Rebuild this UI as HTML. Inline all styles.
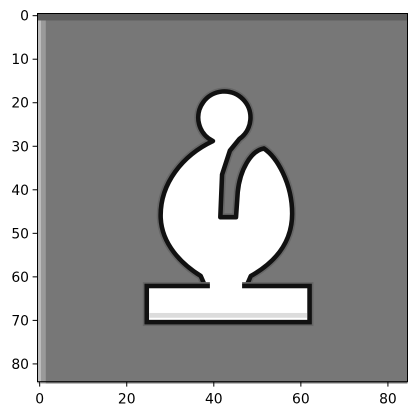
<!DOCTYPE html>
<html><head><meta charset="utf-8"><style>
html,body{margin:0;padding:0;background:#fff;}
svg{display:block;font-family:"DejaVu Sans","Liberation Sans",sans-serif;}
</style></head><body>
<svg id="chart" width="416" height="416" viewBox="0 0 416 416">
  <g id="img" transform="translate(37.5,13.5) scale(4.353)">
    <rect x="0" y="0" width="85" height="85" fill="#777777"/>
    <rect x="0" y="0" width="85" height="1.6" fill="#5e5e5e"/>
    <rect x="0" y="1.6" width="0.8" height="83.4" fill="#bdbdbd"/>
    <rect x="0.8" y="1.6" width="1.1" height="83.4" fill="#9a9a9a"/>
    <g>
      <path d="M40.3 29.3 C33.5 32.5,28 39,28.3 47 C28.6 53,33 57.5,37.5 60.3 L38.5 62.6 L48 62.6 L49 60.3 C54 57.5,58.5 53,58.5 46 C58.5 39,55 33,52 31 C49 31.5,46.5 36,46 41 L45.6 46.8 L42 46.8 L42.4 37 L44.2 31.5 L46.4 28.8 A6 6 0 1 0 40.3 29.3 Z" fill="#fff" stroke="#666" stroke-width="1.8" stroke-linejoin="round"/>
      <path d="M40.3 29.3 C33.5 32.5,28 39,28.3 47 C28.6 53,33 57.5,37.5 60.3 L38.5 62.6 L48 62.6 L49 60.3 C54 57.5,58.5 53,58.5 46 C58.5 39,55 33,52 31 C49 31.5,46.5 36,46 41 L45.6 46.8 L42 46.8 L42.4 37 L44.2 31.5 L46.4 28.8 A6 6 0 1 0 40.3 29.3 Z" fill="#fff" stroke="#111" stroke-width="1.05" stroke-linejoin="round"/>
      <rect x="25.1" y="62.6" width="37.4" height="8.3" fill="#fff" stroke="#666" stroke-width="1.8"/>
      <rect x="25.1" y="62.6" width="37.4" height="8.3" fill="#fff" stroke="#111" stroke-width="1.05"/>
      <rect x="25.7" y="68.8" width="36.2" height="1.1" fill="#dcdcdc"/>
      <rect x="39.6" y="61.5" width="7.4" height="1.8" fill="#fff"/>
    </g>
  </g>
  <rect x="37.5" y="13.5" width="370" height="368.2" fill="none" stroke="#000" stroke-width="1"/>
  <g id="ticks"></g>
</svg>
<script>
const xTicks = [0, 20, 40, 60, 80];
const yTicks = [0, 10, 20, 30, 40, 50, 60, 70, 80];
const ox = 37.5, oy = 13.5, s = 4.353, bottom = 381.7;
function xs(v){ return ox + (v + 0.5) * s; }
function ys(v){ return oy + (v + 0.5) * s; }
const g = document.getElementById('ticks');
const NS = 'http://www.w3.org/2000/svg';
xTicks.forEach(v => {
  const l = document.createElementNS(NS, 'line');
  l.setAttribute('x1', xs(v)); l.setAttribute('x2', xs(v));
  l.setAttribute('y1', bottom); l.setAttribute('y2', bottom + 4.9);
  l.setAttribute('stroke', '#000'); l.setAttribute('stroke-width', '1');
  
  
  g.appendChild(l);
  const t = document.createElementNS(NS, 'text');
  t.setAttribute('x', xs(v)); t.setAttribute('y', bottom + 22);
  t.setAttribute('text-anchor', 'middle'); t.setAttribute('font-size', '13.9');
  t.textContent = v;
  
  
  g.appendChild(t);
});
yTicks.forEach(v => {
  const l = document.createElementNS(NS, 'line');
  l.setAttribute('x1', ox - 4.9); l.setAttribute('x2', ox);
  l.setAttribute('y1', ys(v)); l.setAttribute('y2', ys(v));
  l.setAttribute('stroke', '#000'); l.setAttribute('stroke-width', '1');
  
  
  g.appendChild(l);
  const t = document.createElementNS(NS, 'text');
  t.setAttribute('x', ox - 8.5); t.setAttribute('y', ys(v) + 5);
  t.setAttribute('text-anchor', 'end'); t.setAttribute('font-size', '13.9');
  t.textContent = v;
  
  
  g.appendChild(t);
});
</script>
</body></html>
